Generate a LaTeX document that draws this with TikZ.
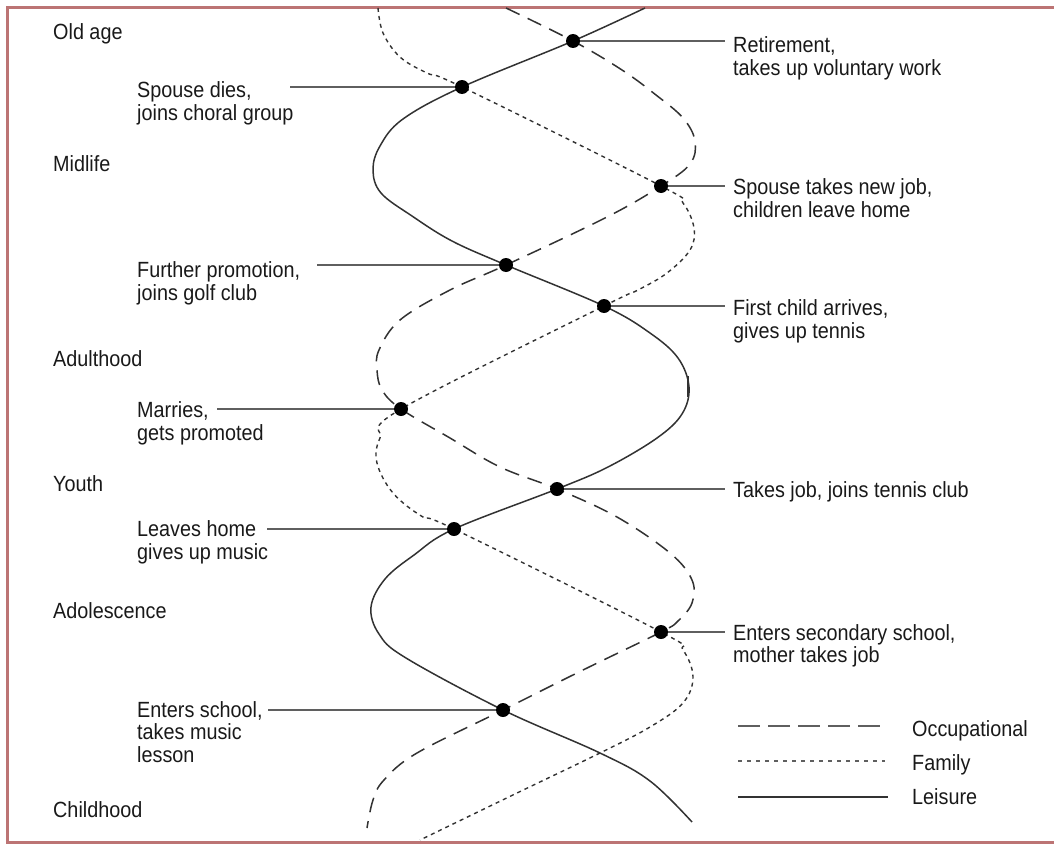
\documentclass[tikz,border=0pt]{standalone}
\usepackage{fontspec}
\setmainfont{Liberation Sans}[FakeStretch=0.9]
\definecolor{frame}{RGB}{188,116,116}
\definecolor{ink}{RGB}{25,25,25}
\definecolor{curve}{RGB}{50,50,50}
\definecolor{connc}{RGB}{95,95,95}
\begin{document}
\begin{tikzpicture}[x=1pt,y=-1pt,
  lbl/.style={inner sep=0pt, align=left, text=ink, font=\fontsize{22}{23}\selectfont},
  evdot/.style={circle, fill=black, inner sep=0pt, minimum size=14pt},
  conn/.style={draw=connc, line width=1.6pt},
  leis/.style={draw=curve, line width=1.5pt},
  occ/.style={draw=curve, line width=1.5pt, dash pattern=on 15pt off 9pt},
  fam/.style={draw=curve, line width=1.4pt, dash pattern=on 4pt off 4pt}]
\useasboundingbox (0,0) rectangle (1054,843);
% frame
\draw[frame, line width=3pt] (1062,7.5) -- (7.5,7.5) -- (7.5,842) -- (1062,842);
% event points
\coordinate (pRet) at (573,41);
\coordinate (pSpD) at (462,87);
\coordinate (pNew) at (661,186);
\coordinate (pFur) at (506,265);
\coordinate (pFir) at (604,306);
\coordinate (pMar) at (401,409);
\coordinate (pTak) at (557,489);
\coordinate (pLea) at (454,529);
\coordinate (pSec) at (661,632);
\coordinate (pSch) at (503,710);
% curves
\draw[leis] plot[smooth, tension=0.6] coordinates {(645,8) (pRet) (pSpD) (403,119) (380,146) (373,170) (381,193) (412,216) (452,241) (pFur) (pFir) (650,333) (678,358) (689,387) (682,414) (657,438) (608,467) (pTak) (pLea) (414,555) (385,579) (371,607) (379,634) (406,658) (pSch) (600,753) (650,781) (692,822)};
\draw[occ] plot[smooth, tension=0.6] coordinates {(506,8) (pRet) (622,70) (656,95) (683,118) (695,141) (690,164) (pNew) (607,217) (pFur) (450,290) (400,320) (379,350) (377,370) (382,390) (pMar) (450,438) (500,467) (pTak) (617,517) (670,553) (692,580) (692,603) (678,621) (pSec) (583,670) (pSch) (417,753) (384,780) (373,800) (367,828)};
\draw[fam] plot[smooth, tension=0.6] coordinates {(378,8) (383,33) (400,57) (427,73) (pSpD) (pNew) (683,203) (694,228) (690,250) (667,273) (638,290) (pFir) (pMar) (380,438) (377,463) (393,493) (423,517) (pLea) (pSec) (683,650) (693,677) (683,703) (650,727) (600,753) (517,793) (420,840)};
\draw[curve, line width=1.6pt] (688,376) -- (688,397);
% dots
\node[evdot] (ret) at (pRet) {};
\node[evdot] (spd) at (pSpD) {};
\node[evdot] (new) at (pNew) {};
\node[evdot] (fur) at (pFur) {};
\node[evdot] (fir) at (pFir) {};
\node[evdot] (mar) at (pMar) {};
\node[evdot] (tak) at (pTak) {};
\node[evdot] (lea) at (pLea) {};
\node[evdot] (sec) at (pSec) {};
\node[evdot] (sch) at (pSch) {};
% stage labels
\node[lbl, anchor=base west] (sOld) at (53,40) {Old age};
\node[lbl, anchor=base west] (sMid) at (53,171) {Midlife};
\node[lbl, anchor=base west] (sAdu) at (53,366) {Adulthood};
\node[lbl, anchor=base west] (sYou) at (53,491) {Youth};
\node[lbl, anchor=base west] (sAdo) at (53,618) {Adolescence};
\node[lbl, anchor=base west] (sChi) at (53,817) {Childhood};
% left event labels (anchor at the last line's baseline)
\node[lbl, anchor=base west] (tSpD) at (137,120) {Spouse dies,\\joins choral group};
\node[lbl, anchor=base west] (tFur) at (137,300) {Further promotion,\\joins golf club};
\node[lbl, anchor=base west] (tMar) at (137,440) {Marries,\\gets promoted};
\node[lbl, anchor=base west] (tLea) at (137,559) {Leaves home\\gives up music};
\node[lbl, anchor=base west, font=\fontsize{22}{22.5}\selectfont] (tSch) at (137,762) {Enters school,\\takes music\\lesson};
% right event labels
\node[lbl, anchor=base west] (tRet) at (733,75) {Retirement,\\takes up voluntary work};
\node[lbl, anchor=base west] (tNew) at (733,217) {Spouse takes new job,\\children leave home};
\node[lbl, anchor=base west] (tFir) at (733,338) {First child arrives,\\gives up tennis};
\node[lbl, anchor=base west] (tTak) at (733,497) {Takes job, joins tennis club};
\node[lbl, anchor=base west, font=\fontsize{22}{20.5}\selectfont] (tSec) at (733,662) {Enters secondary school,\\mother takes job};
% connector ends
\coordinate (cSpD) at (290,87);
\coordinate (cFur) at (317,265);
\coordinate (cMar) at (217,409);
\coordinate (cLea) at (267,529);
\coordinate (cSch) at (268,710);
\coordinate (cRet) at (725,41);
\coordinate (cNew) at (725,186);
\coordinate (cFir) at (725,306);
\coordinate (cTak) at (725,489);
\coordinate (cSec) at (725,632);
\draw[conn] (cSpD) -- (spd);
\draw[conn] (cFur) -- (fur);
\draw[conn] (cMar) -- (mar);
\draw[conn] (cLea) -- (lea);
\draw[conn] (cSch) -- (sch);
\draw[conn] (ret) -- (cRet);
\draw[conn] (new) -- (cNew);
\draw[conn] (fir) -- (cFir);
\draw[conn] (tak) -- (cTak);
\draw[conn] (sec) -- (cSec);
% legend
\coordinate (lgA1) at (738,726); \coordinate (lgA2) at (880,726);
\coordinate (lgB1) at (738,761); \coordinate (lgB2) at (885,761);
\coordinate (lgC1) at (738,797); \coordinate (lgC2) at (888,797);
\draw[draw=connc, line width=1.6pt, dash pattern=on 22pt off 8pt] (lgA1) -- (lgA2);
\draw[draw=connc, line width=1.3pt, dash pattern=on 4pt off 5pt] (lgB1) -- (lgB2);
\draw[draw=curve, line width=1.6pt] (lgC1) -- (lgC2);
\node[lbl, anchor=base west] (lOcc) at (912,736) {Occupational};
\node[lbl, anchor=base west] (lFam) at (912,770) {Family};
\node[lbl, anchor=base west] (lLei) at (912,804) {Leisure};
\end{tikzpicture}
\end{document}
